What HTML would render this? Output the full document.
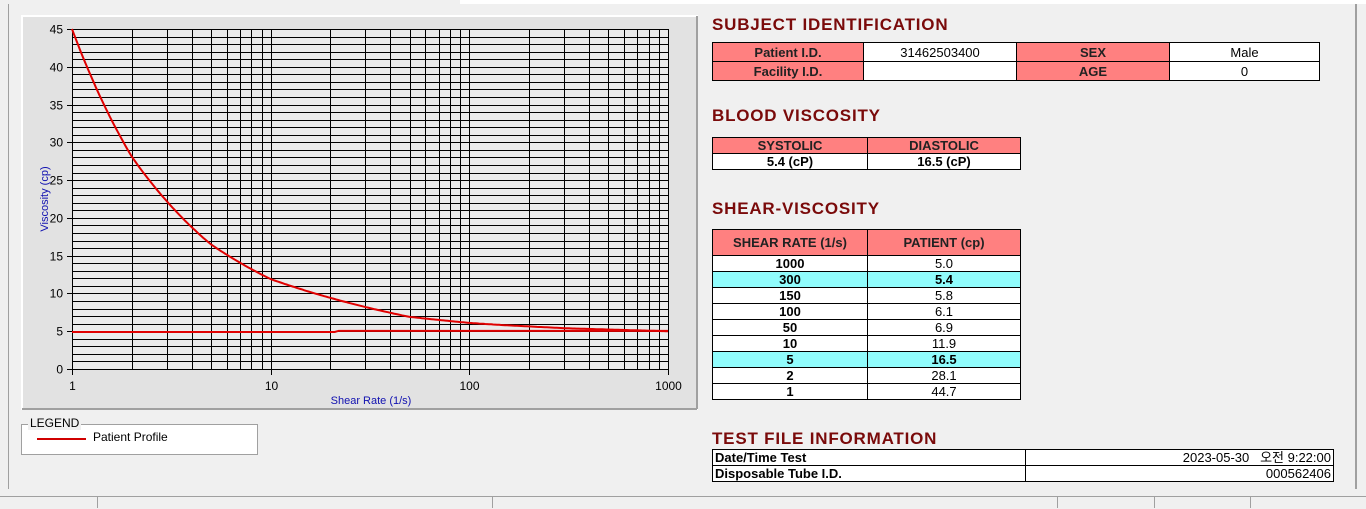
<!DOCTYPE html>
<html><head><meta charset="utf-8"><style>
body{margin:0;width:1366px;height:508px;background:#f0f0f0;position:relative;overflow:hidden;font-family:"Liberation Sans","Noto Sans CJK KR",sans-serif}
.a{position:absolute}
h2{position:absolute;margin:0;font-size:17px;font-weight:bold;color:#7a0a0a;left:712px;letter-spacing:0.8px}
table{position:absolute;border-collapse:collapse;font-size:13px}
td{border:1px solid #000;padding:0;text-align:center;height:15px;line-height:13px;overflow:hidden}
.p{background:#ff8080;font-weight:bold;color:#222}
.w{background:#fff}
.c{background:#90fcfc;font-weight:bold}
.b{font-weight:bold}
</style></head><body>
<div class="a" style="left:460px;top:0;width:906px;height:4px;background:#fff"></div>
<div class="a" style="left:8px;top:4px;width:1px;height:485px;background:#a0a0a0"></div>
<div class="a" style="left:1355px;top:4px;width:2px;height:485px;background:#a0a0a0"></div>
<svg class="a" style="left:0;top:0" width="700" height="420" id="ch"></svg>
<div class="a" style="left:21px;top:424px;width:235px;height:29px;border:1px solid #a0a0a0;background:#fff"></div>
<div class="a" style="left:28px;top:416px;background:#f0f0f0;font-size:12px;padding:0 2px">LEGEND</div>
<div class="a" style="left:37px;top:438px;width:49px;height:2px;background:#d00000"></div>
<div class="a" style="left:93px;top:430px;font-size:12px">Patient Profile</div>

<h2 style="top:15px">SUBJECT IDENTIFICATION</h2>
<table style="left:712px;top:42px;width:608px"><tr><td class="p" style="width:150px;height:18px">Patient I.D.</td><td class="w" style="width:152px">31462503400</td><td class="p" style="width:152px">SEX</td><td class="w">Male</td></tr>
<tr><td class="p" style="height:18px">Facility I.D.</td><td class="w"></td><td class="p">AGE</td><td class="w">0</td></tr></table>
<h2 style="top:106px">BLOOD VISCOSITY</h2>
<table style="left:712px;top:137px;width:309px"><tr><td class="p" style="width:154px">SYSTOLIC</td><td class="p">DIASTOLIC</td></tr>
<tr><td class="w b">5.4 (cP)</td><td class="w b">16.5 (cP)</td></tr></table>
<h2 style="top:199px">SHEAR-VISCOSITY</h2>
<table style="left:712px;top:229px;width:309px" id="sv"><tr><td class="p" style="width:154px;height:25px">SHEAR RATE (1/s)</td><td class="p">PATIENT (cp)</td></tr></table>
<h2 style="top:429px">TEST FILE INFORMATION</h2>
<table style="left:712px;top:449px;width:622px;font-weight:bold"><tr><td class="w" style="width:310px;text-align:left;padding-left:2px">Date/Time Test</td><td class="w" style="text-align:right;padding-right:2px;font-weight:normal">2023-05-30 &nbsp;&nbsp;오전 9:22:00</td></tr>
<tr><td class="w" style="text-align:left;padding-left:2px">Disposable Tube I.D.</td><td class="w" style="text-align:right;padding-right:2px;font-weight:normal">000562406</td></tr></table>
<div class="a" style="left:0;top:496px;width:1366px;height:12px;background:#f0f0f0;border-top:1px solid #a0a0a0"></div>
<div class="a" style="left:97px;top:497px;width:1px;height:11px;background:#a0a0a0"></div>
<div class="a" style="left:492px;top:497px;width:1px;height:11px;background:#a0a0a0"></div>
<div class="a" style="left:1057px;top:497px;width:1px;height:11px;background:#a0a0a0"></div>
<div class="a" style="left:1154px;top:497px;width:1px;height:11px;background:#a0a0a0"></div>
<div class="a" style="left:1250px;top:497px;width:1px;height:11px;background:#a0a0a0"></div>
<script>
var rows=[["1000","5.0",0],["300","5.4",1],["150","5.8",0],["100","6.1",0],["50","6.9",0],["10","11.9",0],["5","16.5",1],["2","28.1",0],["1","44.7",0]];
var t=document.getElementById('sv');
rows.forEach(function(r){var tr=document.createElement('tr');tr.innerHTML='<td class="'+(r[2]?'c':'w b')+'">'+r[0]+'</td><td class="'+(r[2]?'c':'w')+'">'+r[1]+'</td>';t.appendChild(tr);});
var X0=72,X1=668,Y0=369,Y1=29;
function X(v){return X0+(X1-X0)*Math.log10(v)/3}
function Y(v){return Y0-(Y0-Y1)*v/45}
var s='<rect x="22" y="16" width="675" height="393" fill="#e2e2e2"/><rect x="22" y="16" width="675" height="393" fill="none" stroke="#fff" stroke-width="2"/>'+
'<line x1="697" y1="16" x2="697" y2="409" stroke="#a0a0a0" stroke-width="2"/><line x1="22" y1="409" x2="697" y2="409" stroke="#a0a0a0" stroke-width="2"/>'+
'<rect x="72" y="29" width="596" height="340" fill="#ebebeb"/>';
for(var i=0;i<=45;i++){var y=Math.round(Y(i))+.5;s+='<line x1="72" x2="668" y1="'+y+'" y2="'+y+'" stroke="#000"/>';}
for(var d=1;d<=100;d*=10)for(var k=1;k<=10;k++){var x=Math.round(X(d*k))+.5;s+='<line y1="29" y2="369" x1="'+x+'" x2="'+x+'" stroke="#000"/>';}
for(var i=0;i<=45;i+=5){var y=Math.round(Y(i))+.5;s+='<line x1="67" x2="72" y1="'+y+'" y2="'+y+'" stroke="#000"/><text x="63" y="'+(y+4)+'" font-size="12" text-anchor="end">'+i+'</text>';}
[1,10,100,1000].forEach(function(v){var x=Math.round(X(v))+.5;s+='<line y1="369" y2="375" x1="'+x+'" x2="'+x+'" stroke="#000"/><text x="'+x+'" y="390" font-size="12" text-anchor="middle">'+v+'</text>';});
s+='<text x="371" y="404" font-size="11" fill="#1010b0" text-anchor="middle">Shear Rate (1/s)</text>';
s+='<text transform="translate(48,199) rotate(-90)" font-size="11" fill="#1010b0" text-anchor="middle">Viscosity (cp)</text>';
var px=[1,2,5,10,50,100,150,300,1000],py=[45,28.1,16.5,11.9,6.9,6.1,5.8,5.4,5.0];
var p='';for(var j=0;j<=300;j++){var lv=3*j/300,v=Math.pow(10,lv),i2=0;while(i2<px.length-2&&v>px[i2+1])i2++;
var a=Math.log10(px[i2]),b=Math.log10(px[i2+1]),f=(lv-a)/(b-a),la=Math.log(py[i2]),lb=Math.log(py[i2+1]);
var vy=Math.exp(la+(lb-la)*f);p+=(j?'L':'M')+X(v).toFixed(1)+','+Y(vy).toFixed(1);}
s+='<path d="'+p+'" fill="none" stroke="#e00000" stroke-width="2"/>';
s+='<path d="M72,'+Y(4.9)+'L'+X(21)+','+Y(4.9)+'L'+X(22)+','+Y(5.05)+'L668,'+Y(5.05)+'" fill="none" stroke="#e00000" stroke-width="2"/>';
document.getElementById('ch').innerHTML=s;
</script>
</body></html>
